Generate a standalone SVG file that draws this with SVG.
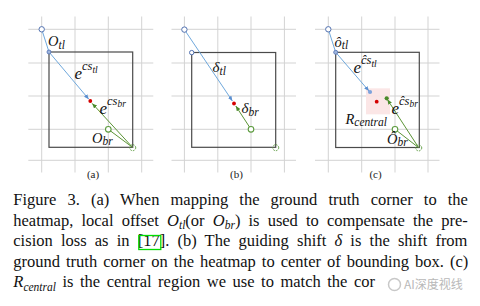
<svg xmlns="http://www.w3.org/2000/svg" width="480" height="306" viewBox="0 0 480 306">
<style>
.grid line{stroke:#d3d3d3;stroke-width:1}
.box{fill:none;stroke:#4a4a4a;stroke-width:1.2}
.bl{stroke:#6fa8dc;stroke-width:1;fill:none}
.gl{stroke:#5b9436;stroke-width:1;fill:none}
.hb{fill:#fff;stroke:#5070b0;stroke-width:1}
.cb{fill:#9fb6de;stroke:#5a78b8;stroke-width:0.9}
.hg{fill:#fff;stroke:#5a9a3c;stroke-width:1.1}
.dg{fill:none;stroke:#5a9a3c;stroke-width:1;stroke-dasharray:1.6 1.2}
.red{fill:#d40000}
.m{font-family:"Liberation Serif",serif;font-style:italic;fill:#111}
.sub{font-family:"Liberation Serif",serif;font-size:11px;fill:#222}
.cap{font-family:"Liberation Serif",serif;font-size:16.5px;fill:#111}
.it{font-style:italic}
</style>
<defs>
<marker id="ab" viewBox="0 0 6 6" refX="6" refY="3" markerWidth="5" markerHeight="5" markerUnits="userSpaceOnUse" orient="auto"><path d="M0,0.5 L6,3 L0,5.5 z" fill="#5b8fd0"/></marker>
<marker id="ag" viewBox="0 0 6 6" refX="6" refY="3" markerWidth="5" markerHeight="5" markerUnits="userSpaceOnUse" orient="auto"><path d="M0,0.5 L6,3 L0,5.5 z" fill="#4a8a2a"/></marker>
</defs>
<rect width="480" height="306" fill="#fff"/>

<g class="grid" id="grid-a">
<line x1="41.7" y1="16.5" x2="41.7" y2="172.5"/><line x1="75" y1="16.5" x2="75" y2="172.5"/><line x1="108.3" y1="16.5" x2="108.3" y2="172.5"/><line x1="141.7" y1="16.5" x2="141.7" y2="172.5"/>
<line x1="28.3" y1="29.3" x2="153.3" y2="29.3"/><line x1="28.3" y1="63" x2="153.3" y2="63"/><line x1="28.3" y1="96" x2="153.3" y2="96"/><line x1="28.3" y1="129.3" x2="153.3" y2="129.3"/><line x1="28.3" y1="160.3" x2="153.3" y2="160.3"/>
</g>
<g class="grid" id="grid-b">
<line x1="184.4" y1="16.5" x2="184.4" y2="172.5"/><line x1="217.8" y1="16.5" x2="217.8" y2="172.5"/><line x1="251" y1="16.5" x2="251" y2="172.5"/><line x1="284.4" y1="16.5" x2="284.4" y2="172.5"/>
<line x1="171.5" y1="29.3" x2="296" y2="29.3"/><line x1="171.5" y1="63" x2="296" y2="63"/><line x1="171.5" y1="96" x2="296" y2="96"/><line x1="171.5" y1="129.3" x2="296" y2="129.3"/><line x1="171.5" y1="160.3" x2="296" y2="160.3"/>
</g>
<g class="grid" id="grid-c">
<line x1="328.3" y1="16.5" x2="328.3" y2="172.5"/><line x1="361.7" y1="16.5" x2="361.7" y2="172.5"/><line x1="395" y1="16.5" x2="395" y2="172.5"/><line x1="428" y1="16.5" x2="428" y2="172.5"/>
<line x1="315" y1="29.3" x2="439.5" y2="29.3"/><line x1="315" y1="63" x2="439.5" y2="63"/><line x1="315" y1="96" x2="439.5" y2="96"/><line x1="315" y1="129.3" x2="439.5" y2="129.3"/><line x1="315" y1="160.3" x2="439.5" y2="160.3"/>
</g>

<g id="box-a"><rect class="box" x="49" y="52" width="83.7" height="95.3"/></g>
<g id="box-b"><rect class="box" x="191.7" y="52.5" width="84" height="94.8"/></g>
<g id="box-c"><rect class="box" x="335.7" y="52.3" width="83.6" height="95.2"/></g>
<g id="rcentral"><rect x="366" y="88.3" width="24" height="26" fill="#fbe3e3" opacity="0.9"/></g>

<g id="connectors">
<line class="bl" x1="41.7" y1="29.3" x2="49" y2="52"/>
<line class="bl" x1="49" y1="52" x2="88.8" y2="99.2" marker-end="url(#ab)"/>
<line class="gl" x1="132.7" y1="147.5" x2="92.2" y2="103.4" marker-end="url(#ag)"/>
<line class="gl" x1="108.3" y1="129.3" x2="132.7" y2="147.5"/>
<line class="bl" x1="184.4" y1="29.6" x2="232.4" y2="101" marker-end="url(#ab)"/>
<line class="gl" x1="251" y1="129.3" x2="235.8" y2="106" marker-end="url(#ag)"/>
<line class="bl" x1="328.3" y1="29.3" x2="335.7" y2="52.3"/>
<line class="bl" x1="335.7" y1="52.3" x2="369" y2="91" marker-end="url(#ab)"/>
<line class="gl" x1="418.7" y1="147.7" x2="387.4" y2="99.5" marker-end="url(#ag)"/>
<line class="gl" x1="395" y1="129.3" x2="418.7" y2="147.7"/>
</g>

<g id="a-hm-tl"><circle class="hb" cx="41.7" cy="29.3" r="2.7"/></g>
<g id="a-tl"><circle class="cb" cx="49" cy="52" r="2"/></g>
<g id="a-center"><circle class="red" cx="90.3" cy="101" r="1.9"/></g>
<g id="a-hm-br"><circle class="hg" cx="108.3" cy="129.3" r="2.8"/></g>
<g id="a-br"><circle class="dg" cx="132.7" cy="147.7" r="3"/></g>

<g id="b-hm-tl"><circle class="hb" cx="184.4" cy="29.6" r="2.7"/></g>
<g id="b-tl"><circle class="hb" cx="191.7" cy="52.6" r="2.2"/></g>
<g id="b-center"><circle class="red" cx="234" cy="103.5" r="1.9"/></g>
<g id="b-hm-br"><circle class="hg" cx="251" cy="129.3" r="2.8"/></g>
<g id="b-br"><circle class="dg" cx="275.7" cy="147.7" r="3"/></g>

<g id="c-hm-tl"><circle class="hb" cx="328.3" cy="29.3" r="2.7"/></g>
<g id="c-tl"><circle class="cb" cx="335.7" cy="52.3" r="2"/></g>
<g id="c-tl-shift"><circle cx="370" cy="92" r="2.1" fill="#7ea3dc"/></g>
<g id="c-center"><circle class="red" cx="376.7" cy="101.7" r="1.9"/></g>
<g id="c-br-shift"><circle cx="386.7" cy="98.3" r="2.1" fill="#4a8a2a"/></g>
<g id="c-hm-br"><circle class="hg" cx="395" cy="129.3" r="2.8"/></g>
<g id="c-br"><circle class="dg" cx="418.7" cy="147.9" r="3"/></g>

<g id="labels">
<text class="m" x="48" y="46" font-size="14.5">O<tspan font-size="11.5" dy="2.5">tl</tspan></text>
<text class="m" x="74.5" y="79" font-size="17">e<tspan font-size="12.5" dy="-9">cs</tspan><tspan font-size="9.5" dy="2.5">tl</tspan></text>
<text class="m" x="99.5" y="113.5" font-size="17">e<tspan font-size="12.5" dy="-9">cs</tspan><tspan font-size="9.5" dy="2.5">br</tspan></text>
<text class="m" x="92" y="142.5" font-size="14.5">O<tspan font-size="11.5" dy="2.5">br</tspan></text>
<text class="m" x="212.5" y="72" font-size="15">δ<tspan font-size="11.5" dy="2.5">tl</tspan></text>
<text class="m" x="241.5" y="113" font-size="15">δ<tspan font-size="11.5" dy="2.5">br</tspan></text>
<text class="m" x="334.5" y="46.5" font-size="14.5">ô<tspan font-size="11.5" dy="2.5">tl</tspan></text>
<text class="m" x="353.5" y="73" font-size="17">e<tspan font-size="12.5" dy="-9">ĉs</tspan><tspan font-size="9.5" dy="2.5">tl</tspan></text>
<text class="m" x="345.5" y="123.5" font-size="14.5">R<tspan font-size="11.5" dy="2.5">central</tspan></text>
<text class="m" x="391.5" y="113.5" font-size="17">e<tspan font-size="12.5" dy="-9">ĉs</tspan><tspan font-size="9.5" dy="2.5">br</tspan></text>
<text class="m" x="387" y="143.5" font-size="14.5">Ô<tspan font-size="11.5" dy="2.5">br</tspan></text>
<text class="sub" x="93" y="178" text-anchor="middle">(a)</text>
<text class="sub" x="236.5" y="178" text-anchor="middle">(b)</text>
<text class="sub" x="375.5" y="178" text-anchor="middle">(c)</text>
</g>

<g id="caption">
<text class="cap" x="13.3" y="205" word-spacing="6.96">Figure 3. (a) When mapping the ground truth corner to the</text>
<text class="cap" x="13.3" y="225.5" word-spacing="4">heatmap, local offset <tspan class="it">O</tspan><tspan class="it" font-size="11.5" dy="3.5">tl</tspan><tspan dy="-3.5">(or </tspan><tspan class="it">O</tspan><tspan class="it" font-size="11.5" dy="3.5">br</tspan><tspan dy="-3.5">) is used to compensate the pre-</tspan></text>
<text class="cap" x="13.3" y="246" word-spacing="4.05">cision loss as in [17]. (b) The guiding shift <tspan class="it">δ</tspan> is the shift from</text>
<rect x="138.8" y="235.5" width="22" height="14" fill="none" stroke="#00dd00" stroke-width="1.3"/>
<text class="cap" x="13.3" y="266.5" word-spacing="1.87">ground truth corner on the heatmap to center of bounding box. (c)</text>
<text class="cap" x="13.3" y="287" word-spacing="2.4"><tspan class="it">R</tspan><tspan class="it" font-size="11.5" dy="3.5">central</tspan><tspan dy="-3.5"> is the central region we use to match the cor</tspan></text>
</g>
<g id="watermark">
<circle cx="394.5" cy="284.5" r="6" fill="#fff" fill-opacity="0.7" stroke="#c8c8c8" stroke-width="1.5"/>
<text x="404" y="289" font-family="'Noto Sans CJK SC',sans-serif" font-size="12" fill="#b8b8b8">AI深度视线</text>
</g>
</svg>
